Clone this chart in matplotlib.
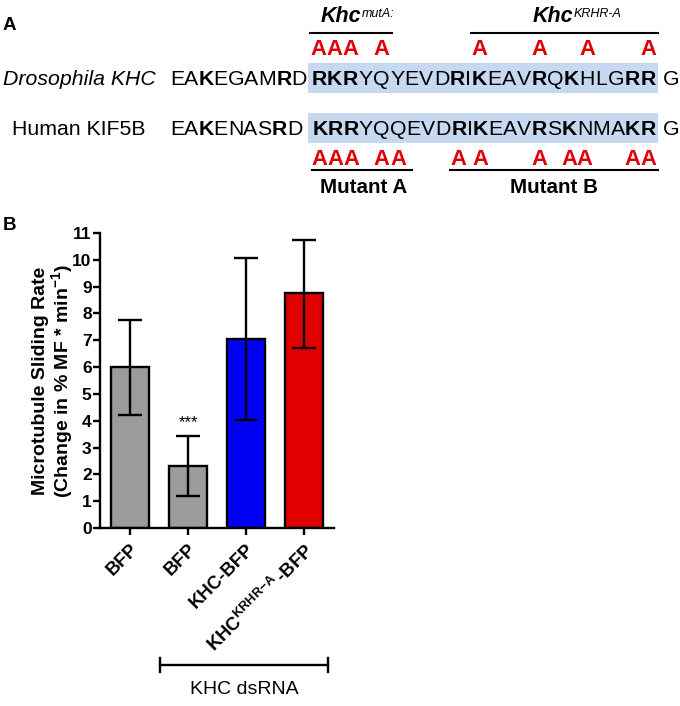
import matplotlib
matplotlib.use('Agg')
import matplotlib.pyplot as plt
from matplotlib.patches import Rectangle
from matplotlib.font_manager import FontProperties, findfont, get_font
import matplotlib.transforms as mtransforms

plt.rcParams['font.family'] = ['Liberation Sans', 'DejaVu Sans']
plt.rcParams['mathtext.fontset'] = 'custom'
plt.rcParams['mathtext.rm'] = 'Liberation Sans'
plt.rcParams['mathtext.bf'] = 'Liberation Sans:bold'
plt.rcParams['mathtext.it'] = 'Liberation Sans:italic'

# ---------------- data ----------------
categories = ['BFP', 'BFP', 'KHC-BFP', r'KHC$^{\mathbf{KRHR{-}A}}\,$-BFP']
means = [6.0, 2.33, 7.05, 8.75]
err_low = [1.78, 1.15, 3.03, 2.03]
err_high = [1.75, 1.10, 3.02, 1.98]
bar_colors = ['#9b9b9b', '#9b9b9b', '#0000f5', '#e00000']
y_ticks = list(range(0, 12))
group_label = 'KHC dsRNA'
signif = '***'

dros_name = 'Drosophila KHC'
human_name = 'Human KIF5B'
dros_prefix = 'EAKEGAMRD'
human_prefix = 'EAKENASRD'
prefix_bold = [2, 7]
dros_core = 'RKRYQYEVDRIKEAVRQKHLGRR'
human_core = 'KRRYQQEVDRIKEAVRSKNMAKR'
core_bold = [0, 1, 2, 9, 11, 15, 17, 21, 22]
suffix = 'G'
top_mut = [0, 1, 2, 4, 11, 15, 18, 22]
bottom_mut = [0, 1, 2, 4, 5, 9, 11, 15, 17, 18, 21, 22]

W, H, DPI = 680, 706, 100
fig = plt.figure(figsize=(W / DPI, H / DPI), dpi=DPI)
fig.patch.set_facecolor('white')

# overlay axes in pixel coordinates (y downward)
axA = fig.add_axes([0, 0, 1, 1])
axA.set_xlim(0, W)
axA.set_ylim(H, 0)
axA.axis('off')
axA.patch.set_alpha(0)

SEQ_FS = 15.3
RED = '#e00000'
HL = '#c6d9f1'


def advance(ch, weight='normal', style='normal', size=SEQ_FS):
    prop = FontProperties(family='Liberation Sans', weight=weight, style=style, size=size)
    font = get_font(findfont(prop))
    font.set_size(size, DPI)
    g = font.load_char(ord(ch))
    return g.linearHoriAdvance / 65536.0


def str_adv(s, weight='normal', style='normal', size=SEQ_FS):
    return sum(advance(c, weight, style, size) for c in s)


def draw_seq(s, bold_idx, x0, baseline, x_end=None):
    """draw letters; return list of (left, right) per letter"""
    advs = [advance(c, 'bold' if i in bold_idx else 'normal') for i, c in enumerate(s)]
    extra = 0.0
    if x_end is not None:
        extra = (x_end - x0 - sum(advs)) / len(s)
    pos = []
    x = x0
    for i, c in enumerate(s):
        w = advs[i] + extra
        axA.text(x + w / 2, baseline, c, ha='center', va='baseline', fontsize=SEQ_FS,
                 fontweight='bold' if i in bold_idx else 'normal', color='black', zorder=3)
        pos.append((x, x + w))
        x += w
    return pos


# --- panel A ---
axA.text(3, 26, 'A', fontsize=13.5, fontweight='bold', ha='left', va='center')

# highlight boxes
box_x0, box_x1 = 308, 658
axA.add_patch(Rectangle((box_x0, 63), box_x1 - box_x0, 30, facecolor=HL, edgecolor='none', zorder=1))
axA.add_patch(Rectangle((box_x0, 113), box_x1 - box_x0, 30, facecolor=HL, edgecolor='none', zorder=1))

# names
axA.text(3, 85, dros_name, fontsize=SEQ_FS, style='italic', ha='left', va='baseline')
axA.text(12, 135, human_name, fontsize=SEQ_FS, ha='left', va='baseline')

# sequences
draw_seq(dros_prefix, prefix_bold, 170, 85)
draw_seq(human_prefix, prefix_bold, 170, 135)
dpos = draw_seq(dros_core, core_bold, 311, 85, x_end=656)
hpos = draw_seq(human_core, core_bold, 312, 135, x_end=656)
axA.text(663, 85, suffix, fontsize=SEQ_FS, ha='left', va='baseline')
axA.text(663, 135, suffix, fontsize=SEQ_FS, ha='left', va='baseline')

# red mutation letters
for i in top_mut:
    l, r = dpos[i]
    axA.text((l + r) / 2, 55, 'A', ha='center', va='baseline', fontsize=SEQ_FS + 0.5,
             fontweight='bold', color=RED)
for i in bottom_mut:
    l, r = hpos[i]
    axA.text((l + r) / 2, 165, 'A', ha='center', va='baseline', fontsize=SEQ_FS + 0.5,
             fontweight='bold', color=RED)

# top header lines
axA.plot([dpos[0][0] - 1, dpos[4][1] + 2], [33, 33], color='black', lw=1.5)
axA.plot([dpos[11][0], dpos[22][1] + 2], [33, 33], color='black', lw=1.5)
# bottom header lines
axA.plot([hpos[0][0], hpos[5][1] + 5], [170, 170], color='black', lw=1.5)
axA.plot([hpos[9][0] - 1, hpos[22][1] + 2], [170, 170], color='black', lw=1.5)


def header(x, main, sup):
    axA.text(x, 22, main, fontsize=15.5, fontweight='bold', style='italic', ha='left', va='baseline')
    w = str_adv(main, 'bold', 'italic', 15.5)
    axA.text(x + w, 17, sup, fontsize=9, style='italic', ha='left', va='baseline')


header(321, 'Khc', 'mutA:')
header(533, 'Khc', 'KRHR-A')

axA.text((hpos[0][0] + hpos[5][1] + 5) / 2 + 2, 193, 'Mutant A', fontsize=14.8, fontweight='bold',
         ha='center', va='baseline')
axA.text((hpos[9][0] + hpos[22][1]) / 2, 193, 'Mutant B', fontsize=14.8, fontweight='bold',
         ha='center', va='baseline')

# --- panel B ---
axA.text(3, 226, 'B', fontsize=13.5, fontweight='bold', ha='left', va='center')

axB = fig.add_axes([100 / W, (H - 528) / H, 234 / W, 295 / H])
x = list(range(len(means)))
axB.bar(x, means, width=0.66, color=bar_colors, edgecolor='black', linewidth=1.7, zorder=2)
axB.errorbar(x, means, yerr=[err_low, err_high], fmt='none', ecolor='black', elinewidth=1.7,
             capsize=8.5, capthick=1.7, zorder=3)
axB.set_xlim(-0.52, 3.52)
axB.set_ylim(0, 11)
axB.set_yticks(y_ticks)
axB.set_yticklabels([str(t) for t in y_ticks], fontsize=12.5, fontweight='bold')
axB.set_xticks(x)
axB.set_xticklabels(categories, rotation=45, ha='right', va='top', rotation_mode='anchor',
                    fontsize=13.3, fontweight='bold')
for s in ['top', 'right']:
    axB.spines[s].set_visible(False)
for s in ['left', 'bottom']:
    axB.spines[s].set_linewidth(1.7)
axB.tick_params(axis='both', direction='out', length=5, width=1.7, color='black')
axB.tick_params(axis='y', pad=1)
axB.tick_params(axis='x', pad=4)
axB.patch.set_alpha(0)

axB.text(1, means[1] + err_high[1] + 0.5, signif, ha='center', va='center', fontsize=12)

# y label (two lines)
axA.text(41, 381, 'Microtubule Sliding Rate', rotation=90, fontsize=14, fontweight='bold',
         ha='center', va='center')
axA.text(62, 381, '(Change in % MF * min' + r'$^{\mathbf{-1}}$' + ')', rotation=90, fontsize=14,
         fontweight='bold', ha='center', va='center')

# group bracket
trans = mtransforms.blended_transform_factory(axB.transData, axA.transData)
bx0, bx1 = 0.52, 3.41
axA.plot([bx0, bx1], [665, 665], color='black', lw=1.7, transform=trans, clip_on=False)
axA.plot([bx0, bx0], [658, 672], color='black', lw=1.7, transform=trans, clip_on=False)
axA.plot([bx1, bx1], [658, 672], color='black', lw=1.7, transform=trans, clip_on=False)
axA.text((bx0 + bx1) / 2, 690, group_label, fontsize=14, ha='center', va='center', transform=trans)

fig.savefig('out.png', dpi=DPI)
